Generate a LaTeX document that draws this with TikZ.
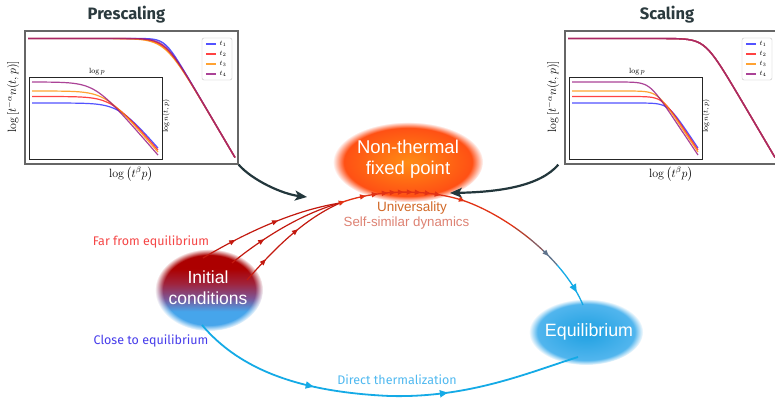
\documentclass[tikz,border=0pt]{standalone}
\usepackage{amsmath}
\usepackage{fontspec}
\usetikzlibrary{arrows.meta, shapes.geometric, fadings, decorations.markings}
\newfontfamily\firafont{Fira Sans}
\newfontfamily\arialfont{Liberation Sans}
\definecolor{titlegray}{RGB}{43,58,62}
\definecolor{darkslate}{RGB}{35,55,60}
\definecolor{cblue}{RGB}{40,40,255}
\definecolor{cred}{RGB}{255,20,20}
\definecolor{corange}{RGB}{255,140,0}
\definecolor{cpurple}{RGB}{150,20,125}
\definecolor{arcred}{RGB}{225,50,20}
\definecolor{arcbrown}{RGB}{180,65,45}
\definecolor{arcmauve}{RGB}{135,90,95}
\definecolor{arcgray}{RGB}{95,115,140}
\definecolor{icred}{RGB}{195,25,15}
\definecolor{ictop}{RGB}{172,0,0}
\definecolor{icmid}{RGB}{160,35,60}
\definecolor{icpurp}{RGB}{125,85,150}
\definecolor{icbot}{RGB}{70,165,235}
\definecolor{fpin}{RGB}{255,140,20}
\definecolor{fpout}{RGB}{255,70,20}
\definecolor{eqin}{RGB}{30,160,225}
\definecolor{eqout}{RGB}{90,185,240}
\definecolor{farred}{RGB}{245,70,70}
\definecolor{closeblue}{RGB}{70,60,235}
\definecolor{directblue}{RGB}{80,185,240}
\definecolor{flowblue}{RGB}{20,170,230}
\definecolor{univ}{RGB}{210,105,40}
\definecolor{selfsim}{RGB}{222,130,115}
\pgfdeclareverticalshading{icshade}{100bp}{color(0bp)=(icbot); color(37bp)=(icbot);
	color(45bp)=(icpurp); color(54bp)=(icmid); color(63bp)=(ictop); color(100bp)=(ictop)}

\begin{document}
\begin{tikzpicture}[x=1pt, y=-1pt,
	declare function={sp(\t)=max(\t,0)+ln(1+exp(-abs(\t)));},
	rtip/.tip={Triangle[length=6pt, width=5pt]},
	btip/.tip={Triangle[length=8pt, width=7pt]},
	frame/.style={draw=black!60, line width=1.3pt, inner sep=0pt},
	insetframe/.style={draw=black!85, line width=1pt, inner sep=0pt, fill=white},
	curve/.style={line width=1.4pt, opacity=0.8},
	icurve/.style={line width=1.2pt, opacity=0.8},
	legendbox/.style={draw=black!25, rounded corners=2pt, fill=white, inner sep=0pt},
	ttl/.style={font=\firafont\bfseries\fontsize{16.5}{19}\selectfont, text=titlegray},
	axlabel/.style={font=\fontsize{12}{14}\selectfont},
	small/.style={font=\fontsize{7.5}{8}\selectfont, inner sep=1pt},
	blob/.style={ellipse, inner sep=0pt, path fading=circle with fuzzy edge 15 percent},
	blobtext/.style={font=\arialfont\fontsize{18.5}{21}\selectfont, text=white, align=center},
	flabel/.style={font=\firafont\fontsize{12.5}{15}\selectfont},
	darkarr/.style={draw=darkslate, line width=2.2pt, -{Stealth[length=12pt, width=10pt, inset=3pt]}},
	redline/.style={draw=icred, line width=1.2pt, postaction={decorate}},
	arcline/.style={line width=1.3pt, postaction={decorate}, decoration={markings,
		mark=at position 5pt with {\arrow{rtip}}, mark=at position 27pt with {\arrow{rtip}},
		mark=at position 39pt with {\arrow{rtip}}, mark=at position 49pt with {\arrow{rtip}},
		mark=at position 57pt with {\arrow{rtip}}, mark=at position 65pt with {\arrow{rtip}},
		mark=at position 74pt with {\arrow{rtip}}, mark=at position 82pt with {\arrow{rtip}},
		mark=at position 92pt with {\arrow{rtip}}, mark=at position 102pt with {\arrow{rtip}},
		mark=at position 127pt with {\arrow{rtip}}, mark=at position 228pt with {\arrow{rtip}},
		mark=at position 274pt with {\arrow{btip}}}}]

\fill[white] (0,0) rectangle (775,399);
\useasboundingbox (0,0) rectangle (775,399);

% left panel: prescaling
\node[ttl] (ltitle) at (126.5,15) {Prescaling};
\node[frame, minimum width=213pt, minimum height=133pt] (lframe) at (131.5,97.5) {};
\draw[curve, cblue] plot[domain=28:235, samples=70] (\x, {38.5+1.7*5*sp((\x-165)/5)});
\draw[curve, cred] plot[domain=28:235, samples=70] (\x, {38.5+1.7*8*sp((\x-165)/8)});
\draw[curve, corange] plot[domain=28:235, samples=70] (\x, {38.5+1.7*9*sp((\x-165)/9)});
\draw[curve, cpurple] plot[domain=28:235, samples=70] (\x, {38.5+1.7*7*sp((\x-165)/7)});
\node[insetframe, minimum width=133pt, minimum height=82pt] (linset) at (95.5,118) {};
\draw[icurve, cblue] plot[domain=32:158, samples=60] (\x, {103+11.5*sp((\x-119)/10)});
\draw[icurve, cred] plot[domain=32:158, samples=60] (\x, {96.5+11.5*sp((\x-111.5)/10)});
\draw[icurve, corange] plot[domain=32:158, samples=60] (\x, {91+11.5*sp((\x-105)/10)});
\draw[icurve, cpurple] plot[domain=32:158, samples=60] (\x, {82+11.5*sp((\x-94.5)/10)});
\node[small] (llogp) at (97,72) {$\log p$};
\node[small, rotate=90] (llogn) at (166,116) {$\log n(t,p)$};
\node[legendbox, minimum width=30pt, minimum height=42pt] (lleg) at (217,59) {};
\draw[cblue, line width=1.3pt, opacity=0.8] (206,44) -- (216,44);
\draw[cred, line width=1.3pt, opacity=0.8] (206,54) -- (216,54);
\draw[corange, line width=1.3pt, opacity=0.8] (206,64) -- (216,64);
\draw[cpurple, line width=1.3pt, opacity=0.8] (206,74) -- (216,74);
\node[small] (lt1) at (223,44) {$t_1$};
\node[small] (lt2) at (223,54) {$t_2$};
\node[small] (lt3) at (223,64) {$t_3$};
\node[small] (lt4) at (223,74) {$t_4$};
\node[axlabel] (lxlab) at (131,174) {$\log\left(t^\beta p\right)$};
\node[axlabel, rotate=90] (lylab) at (13,97) {$\log\left[t^{-\alpha}n(t,p)\right]$};

% right panel: scaling
\begin{scope}[xshift=540]
\node[ttl] (rtitle) at (127,15) {Scaling};
\node[frame, minimum width=213pt, minimum height=133pt] (rframe) at (131.5,97.5) {};
\draw[curve, cblue] plot[domain=28:235, samples=70] (\x, {38.5+1.7*7*sp((\x-165)/7)});
\draw[curve, cred] plot[domain=28:235, samples=70] (\x, {38.5+1.7*7*sp((\x-165)/7)});
\draw[curve, corange] plot[domain=28:235, samples=70] (\x, {38.5+1.7*7*sp((\x-165)/7)});
\draw[curve, cpurple] plot[domain=28:235, samples=70] (\x, {38.5+1.7*7*sp((\x-165)/7)});
\node[insetframe, minimum width=133pt, minimum height=82pt] (rinset) at (95.5,118) {};
\draw[icurve, cblue] plot[domain=32:158, samples=60] (\x, {103+7.5*sp((\x-128)/5)});
\draw[icurve, cred] plot[domain=32:158, samples=60] (\x, {96.5+7.5*sp((\x-122.3)/5)});
\draw[icurve, corange] plot[domain=32:158, samples=60] (\x, {91+7.5*sp((\x-117.3)/5)});
\draw[icurve, cpurple] plot[domain=32:158, samples=60] (\x, {82+7.5*sp((\x-109.3)/5)});
\node[small] (rlogp) at (97,72) {$\log p$};
\node[small, rotate=90] (rlogn) at (166,116) {$\log n(t,p)$};
\node[legendbox, minimum width=30pt, minimum height=42pt] (rleg) at (217,59) {};
\draw[cblue, line width=1.3pt, opacity=0.8] (206,44) -- (216,44);
\draw[cred, line width=1.3pt, opacity=0.8] (206,54) -- (216,54);
\draw[corange, line width=1.3pt, opacity=0.8] (206,64) -- (216,64);
\draw[cpurple, line width=1.3pt, opacity=0.8] (206,74) -- (216,74);
\node[small] (rt1) at (223,44) {$t_1$};
\node[small] (rt2) at (223,54) {$t_2$};
\node[small] (rt3) at (223,64) {$t_3$};
\node[small] (rt4) at (223,74) {$t_4$};
\node[axlabel] (rxlab) at (131,174) {$\log\left(t^\beta p\right)$};
\node[axlabel, rotate=90] (rylab) at (13,97) {$\log\left[t^{-\alpha}n(t,p)\right]$};
\end{scope}

% blobs
\node[blob, inner color=fpin, outer color=fpout, minimum width=150pt, minimum height=80pt] (fp) at (408,162) {};
\node[blobtext] (fptext) at (408,159) {Non-thermal\\fixed point};
\node[blob, shading=icshade, minimum width=108pt, minimum height=82pt] (ic) at (209,290) {};
\node[blobtext, font=\arialfont\fontsize{17.5}{21}\selectfont] (ictext) at (208,287.5) {Initial\\conditions};
\node[blob, inner color=eqin, outer color=eqout, minimum width=114pt, minimum height=66pt] (eq) at (586,332) {};
\node[blobtext, font=\arialfont\fontsize{17.8}{21}\selectfont] (eqtext) at (589,332) {Equilibrium};

% coordinates
\coordinate (merge) at (340,203);
\coordinate (ic1) at (203,258);
\coordinate (ic2) at (232,263);
\coordinate (ic3) at (247,280);
\coordinate (ic4) at (202,325);
\coordinate (eqtop) at (583,305);
\coordinate (eqbot) at (578,357);
\coordinate (lin) at (307,197);
\coordinate (rin) at (450,193);

% plots into the fixed point
\draw[darkarr] (lframe.south east) .. controls (252,180) and (282,194) .. (lin);
\draw[darkarr] ([xshift=-6pt]rframe.south west) .. controls (540,186) and (500,192) .. (rin);

% far from equilibrium
\draw[redline, decoration={markings, mark=at position 37pt with {\arrow{rtip}}, mark=at position 84pt with {\arrow{rtip}}}]
	(ic1) .. controls (240,236) and (290,211) .. (merge);
\draw[redline, decoration={markings, mark=at position 40pt with {\arrow{rtip}}}]
	(ic2) .. controls (260,240) and (300,214) .. (merge);
\draw[redline, decoration={markings, mark=at position 28pt with {\arrow{rtip}}, mark=at position 72pt with {\arrow{rtip}}}]
	(ic3) .. controls (270,254) and (300,221) .. (merge);
\foreach \xa/\xb/\col in {0/515/arcred, 515/530/arcbrown, 530/543/arcmauve, 543/557/arcgray, 557/775/flowblue}{
	\begin{scope}
		\clip (\xa,0) rectangle (\xb,399);
		\draw[arcline, \col] (merge) .. controls (380,188) and (435,189) .. (470,203)
			.. controls (515,221) and (565,262) .. (eqtop);
	\end{scope}
}

% close to equilibrium
\draw[flowblue, line width=1.8pt, postaction={decorate}, decoration={markings,
	mark=at position 130pt with {\arrow{btip}}, mark=at position 265pt with {\arrow{btip}}}]
	(ic4) .. controls (240,370) and (300,392) .. (390,396) .. controls (470,398) and (530,372) .. (eqbot);

% labels
\node[flabel, text=farred] (far) at (151,242) {Far from equilibrium};
\node[flabel, text=closeblue] (close) at (151,341) {Close to equilibrium};
\node[flabel, text=directblue] (direct) at (397,380) {Direct thermalization};
\node[font=\arialfont\fontsize{13.5}{16}\selectfont, text=univ] (univ) at (412,208) {Universality};
\node[font=\arialfont\fontsize{13.3}{16}\selectfont, text=selfsim] (selfsim) at (406.5,223) {Self-similar dynamics};
\end{tikzpicture}
\end{document}
